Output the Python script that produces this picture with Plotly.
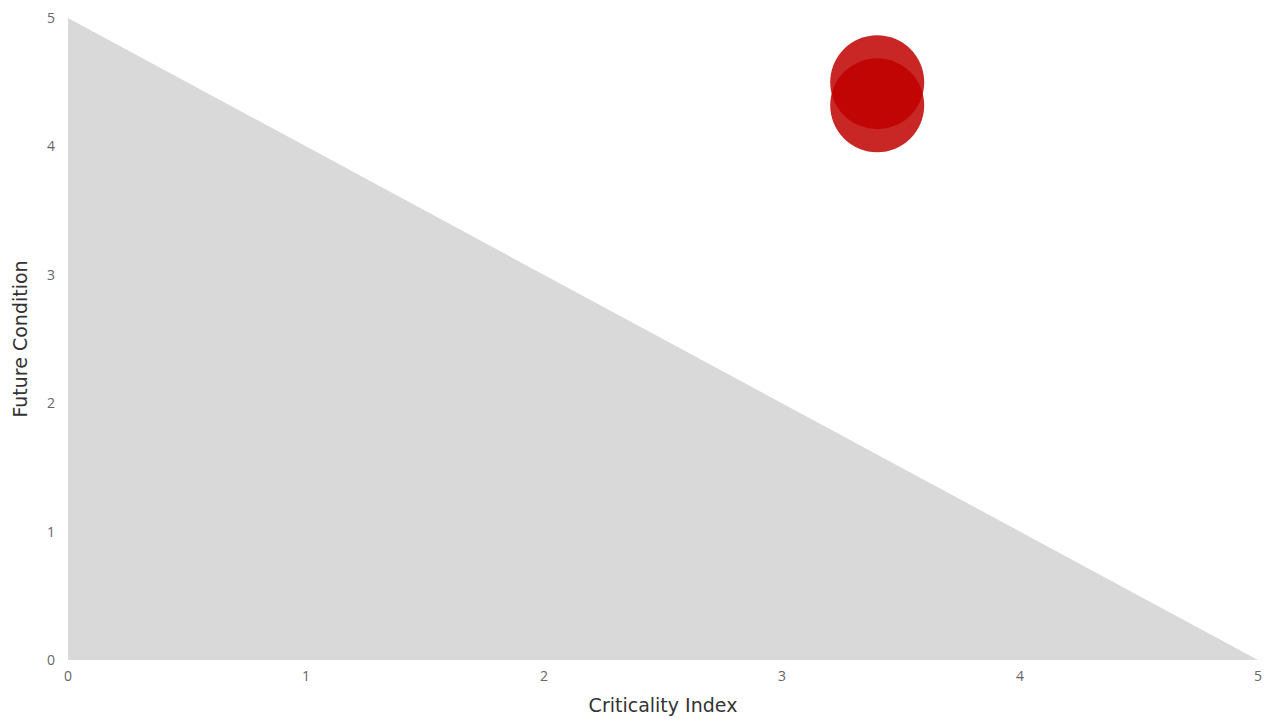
import plotly.graph_objects as go

# triangle boundary (line from top-left to bottom-right)
area_x = [0, 5]
area_y = [5, 0]

# bubbles
bubble_x = [3.4, 3.4]
bubble_y = [4.5, 4.32]
bubble_size = [94, 94]

ticks = [0, 1, 2, 3, 4, 5]

fig = go.Figure()
fig.add_scatter(
    x=area_x,
    y=area_y,
    mode='lines',
    line=dict(width=0, color='#d9d9d9'),
    fill='tozeroy',
    fillcolor='#d9d9d9',
    hoverinfo='skip',
    showlegend=False,
)
fig.add_scatter(
    x=bubble_x,
    y=bubble_y,
    mode='markers',
    marker=dict(
        size=bubble_size,
        color='#c00000',
        opacity=0.85,
        line=dict(width=0),
    ),
    showlegend=False,
)

common_axis = dict(
    range=(0, 5),
    tickmode='array',
    tickvals=ticks,
    showgrid=False,
    zeroline=False,
    showline=False,
    automargin=False,
    ticklabeloverflow='allow',
    tickfont=dict(family='Open Sans', size=14, color='#666666'),
)
title_font = dict(family='DejaVu Sans', size=19, color='#333333')

fig.update_layout(
    width=1282,
    height=725,
    margin=dict(l=60, r=32, t=10, b=73),
    plot_bgcolor='white',
    paper_bgcolor='white',
    xaxis=dict(
        **common_axis,
        ticklabelstandoff=6,
        title=dict(text='Criticality Index', standoff=14, font=title_font),
    ),
    yaxis=dict(
        **common_axis,
        ticklabelstandoff=12,
        title=dict(text='Future Condition', standoff=14, font=title_font),
    ),
)

fig.write_html("out.html")
